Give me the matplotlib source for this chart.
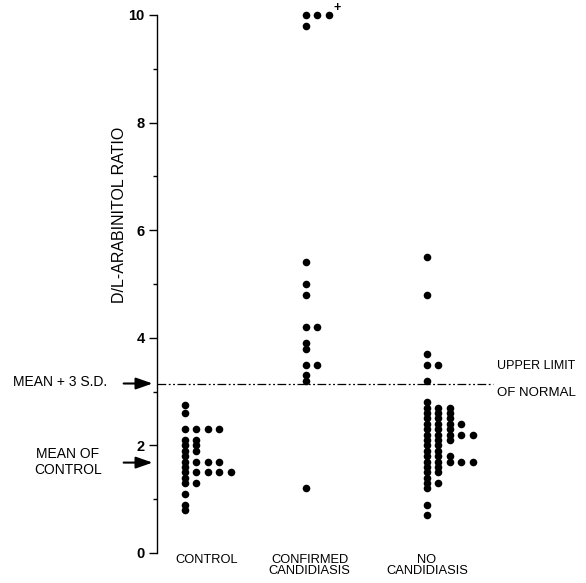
import numpy as np
import matplotlib
matplotlib.use("Agg")
import matplotlib.pyplot as plt

plt.rcParams["font.family"] = ["Liberation Sans", "DejaVu Sans"]

# values, one list per dot column in each group
control_cols = [
    [2.75, 2.6, 2.3, 2.1, 2.0, 1.9, 1.8, 1.7, 1.6, 1.5, 1.4, 1.3, 1.1, 0.9, 0.8],
    [2.3, 2.1, 2.0, 1.9, 1.7, 1.5, 1.3],
    [2.3, 1.7, 1.5],
    [2.3, 1.7, 1.5],
    [1.5],
]
confirmed_cols = [
    [10.0, 9.8, 5.4, 5.0, 4.8, 4.2, 3.9, 3.8, 3.5, 3.3, 3.2, 1.2],
    [10.0, 4.2, 3.5],
    [10.0],
]
no_cand_cols = [
    [5.5, 4.8, 3.7, 3.5, 3.2, 2.8, 2.7, 2.6, 2.5, 2.4, 2.3, 2.2, 2.1, 2.0,
     1.9, 1.8, 1.7, 1.6, 1.5, 1.4, 1.3, 1.2, 0.9, 0.7],
    [3.5, 2.7, 2.6, 2.5, 2.4, 2.3, 2.2, 2.1, 2.0, 1.9, 1.8, 1.7, 1.6, 1.5, 1.3],
    [2.7, 2.6, 2.5, 2.4, 2.3, 2.2, 2.1, 1.8, 1.7],
    [2.4, 2.2, 1.7],
    [2.2, 1.7],
]
groups = [control_cols, confirmed_cols, no_cand_cols]
group_labels = ["CONTROL", "CONFIRMED\nCANDIDIASIS", "NO\nCANDIDIASIS"]
upper_limit = 3.15
mean_control = 1.68

fig = plt.figure(figsize=(5.86, 5.83), dpi=100)
ax = fig.add_axes([0.268, 0.0515, 0.732, 0.9228])

col_step = 0.095
for g, cols in enumerate(groups):
    for c, vals in enumerate(cols):
        xs = np.full(len(vals), g + 1 + c * col_step)
        ax.scatter(xs, vals, s=30, color="black", linewidths=0, clip_on=False, zorder=3)

# ">10" mark next to the top dots
ax.annotate("+", xy=(2 + 2 * col_step, 10.0), xytext=(3, 1), textcoords="offset points",
            fontsize=9, fontweight="bold", ha="left", va="bottom", annotation_clip=False)

ax.set_xlim(0.769, 4.314)
ax.set_ylim(0, 10)

# upper limit of normal
ax.plot([0.769, 3.545], [upper_limit, upper_limit], color="black", lw=0.9,
        dashes=(7, 2, 1.5, 2, 1.5, 2), zorder=2)
ax.text(3.58, 3.48, "UPPER LIMIT", fontsize=9, ha="left", va="center")
ax.text(3.58, 2.98, "OF NORMAL", fontsize=9.5, ha="left", va="center")

# left-side annotations with arrows
arrow_kw = dict(arrowstyle="-|>,head_length=1.0,head_width=0.35", color="black", lw=1.5)
ax.annotate("", xy=(0.755, upper_limit), xytext=(0.47, upper_limit),
            arrowprops=arrow_kw, annotation_clip=False)
ax.annotate("", xy=(0.755, mean_control), xytext=(0.47, mean_control),
            arrowprops=arrow_kw, annotation_clip=False)
fig.text(13 / 586, 1 - 382 / 583, "MEAN + 3 S.D.", fontsize=10, ha="left", va="center")
fig.text(68 / 586, 1 - 462 / 583, "MEAN OF\nCONTROL", fontsize=10, ha="center", va="center",
         linespacing=1.1)

# y label
ax.text(-0.088, 0.628, "D/L-ARABINITOL RATIO", rotation=90, fontsize=11.5,
        ha="center", va="center", transform=ax.transAxes)

# axes styling
for side in ["top", "right", "bottom"]:
    ax.spines[side].set_visible(False)
ax.spines["left"].set_linewidth(1.0)
ax.set_yticks([0, 2, 4, 6, 8, 10])
ax.set_yticks([1, 3, 5, 7, 9], minor=True)
ax.tick_params(axis="y", which="major", length=6, width=1, labelsize=10.5, pad=3)
ax.tick_params(axis="y", which="minor", length=3, width=1)
for lab in ax.get_yticklabels():
    lab.set_fontweight("bold")
ax.set_xticks([1.18, 2.03, 3.0])
ax.set_xticklabels(group_labels, fontsize=9.3, linespacing=0.95)
ax.tick_params(axis="x", length=0, pad=0.5)

fig.savefig("out.png", dpi=100, facecolor="white")
